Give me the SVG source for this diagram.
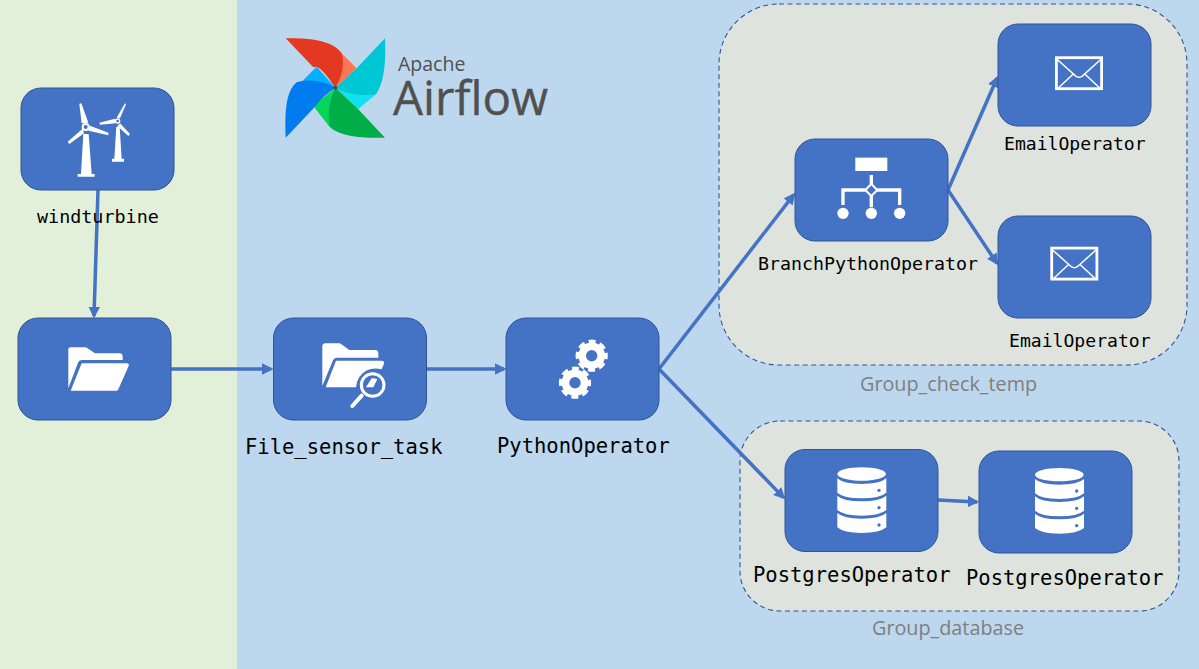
<svg xmlns="http://www.w3.org/2000/svg" xmlns:xlink="http://www.w3.org/1999/xlink" width="1199" height="669" viewBox="0 0 1199 669">
<style>
.box{fill:#4472c4;stroke:#2f5597;stroke-width:1}
.lab{font-family:"DejaVu Sans Mono","Liberation Mono",monospace;fill:#000}
.l1{font-size:18.4px}.l2{font-size:20.5px}.l3{font-size:18.1px}.l4{font-size:18.3px}
.grp{fill:#dee4dd;stroke:#2f5597;stroke-width:1.1;stroke-dasharray:5 3.5}
.gl{font-family:"Open Sans","Liberation Sans",sans-serif;font-size:19.800px;fill:#7f7f7f}
.wire{fill:none;stroke:#4472c4;stroke-width:3.500;marker-end:url(#arr)}
.ic{fill:#fff}
.ln{fill:none;stroke:#fff}
</style>
<defs>
<marker id="arr" viewBox="0 0 10 10" refX="8" refY="5" markerWidth="3.300" markerHeight="3.300" orient="auto" markerUnits="strokeWidth"><path d="M0,0L10,5L0,10Z" fill="#4472c4"/></marker>
<g id="email">
<rect x="1.400" y="1.400" width="45.200" height="31" fill="none" stroke="#fff" stroke-width="2.800"/>
<path d="M2,3L21,20Q24,22 27,20L46,3M3,32L18,18M45,32L30,18" fill="none" stroke="#fff" stroke-width="1.500"/>
</g>
<g id="db" transform="scale(.3333)">
<ellipse cx="275" cy="102" rx="73" ry="20" fill="#fff"/>
<path fill="#fff" d="M202,115Q220,132 275,132Q330,132 349,115V158Q330,175 275,175Q220,175 202,158Z"/>
<path fill="#fff" d="M202,167Q220,184 275,184Q330,184 349,167V210Q330,227 275,227Q220,227 202,210Z"/>
<path fill="#fff" d="M202,219Q220,236 275,236Q330,236 349,219V262Q330,279 275,279Q220,279 202,262Z"/>
<circle cx="327" cy="151" r="5" fill="#4472c4"/><circle cx="327" cy="203" r="5" fill="#4472c4"/><circle cx="327" cy="255" r="5" fill="#4472c4"/>
</g>
<g id="gear">
<circle r="9.500" fill="none" stroke="#fff" stroke-width="7.600"/>
<circle r="14" fill="none" stroke="#fff" stroke-width="4.200" stroke-dasharray="6.800 4.200" stroke-dashoffset="3.400"/>
</g>
</defs>
<rect width="237" height="669" fill="#e2efd9"/>
<rect x="237" width="962" height="669" fill="#bdd7ee"/>
<g id="group_check_temp"><rect class="grp" x="719" y="4" width="468" height="361" rx="60"/><text class="gl" x="860" y="391">Group_check_temp</text></g>
<g id="group_database"><rect class="grp" x="740" y="421" width="439" height="190" rx="40"/><text class="gl" x="872" y="635">Group_database</text></g>
<g id="airflow_logo">
<g transform="translate(270 25) scale(.3333)">
<path fill="#ff7557" d="M215,85L260,130L196,188Z"/>
<path fill="#e43921" d="M47,40C110,38 190,45 215,85C225,115 215,160 196,188C180,165 160,135 140,125Q135,125 130,127Z"/>
<path fill="#11e1ee" d="M196,188L318,208L265,252Z"/>
<path fill="#00c7d4" d="M345,40C348,100 345,170 318,208C280,215 225,205 196,188L260,130Z"/>
<path fill="#00ad46" d="M345,338C280,340 200,335 175,300C170,260 180,215 196,188L262,250Z"/>
<path fill="#04d659" d="M196,188C180,215 170,260 180,307L135,250Q133,240 140,232Q165,215 196,188Z"/>
<path fill="#00b1ff" d="M196,188L140,125L95,170Q150,165 196,188Z"/>
<path fill="#017cee" d="M47,338C45,270 45,200 80,172C120,160 165,170 196,188C170,205 150,225 135,245Z"/>
<circle cx="196" cy="188" r="6" fill="#4e4a4a"/>
</g>
<text x="398" y="71" font-family="'Open Sans','Liberation Sans',sans-serif" font-size="19.500" fill="#51504f">Apache</text>
<text x="393" y="115" font-family="'Open Sans','Liberation Sans',sans-serif" font-size="47.500" fill="#51504f" stroke="#51504f" stroke-width=".4" textLength="155">Airflow</text>
</g>
<g id="connectors">
<path class="wire" d="M98,190L94,316"/>
<path class="wire" d="M171,369L271,369"/>
<path class="wire" d="M426,369L504,369"/>
<path class="wire" d="M659,369L793.800,194.600"/>
<path class="wire" d="M659,369L783.600,497.600"/>
<path class="wire" d="M948,190L997.200,77.800"/>
<path class="wire" d="M948,190L996.900,263.300"/>
<path class="wire" d="M938,500L977,501.900"/>
</g>
<g id="windturbine">
<rect class="box" x="21" y="88" width="153" height="102" rx="20"/>
<g transform="translate(0 70) scale(.3333)">
<path class="ic" d="M250,192L266,192L275,312H284V320H233V312H243Z"/>
<path class="ic" d="M238,101L244,100L265,158L245,160Z"/>
<path class="ic" d="M270,167L325,188L325,196L265,182Z"/>
<path class="ic" d="M248,176L203,215L208,222L252,190Z"/>
<circle cx="257" cy="171" r="9" fill="#4472c4" stroke="#fff" stroke-width="6"/>
<path class="ic" d="M349,170L359,170L365,266H372V275H336V266H343Z"/>
<path class="ic" d="M375,100L378,103L360,145L350,143Z"/>
<path class="ic" d="M298,158L345,146L347,160L300,164Z"/>
<path class="ic" d="M360,160L390,192L385,198L352,168Z"/>
<circle cx="353" cy="153" r="6" fill="#4472c4" stroke="#fff" stroke-width="4"/>
</g>
<text class="lab l1" x="37" y="223">windturbine</text>
</g>
<g id="folder">
<rect class="box" x="18" y="318" width="153" height="102" rx="20"/>
<g transform="translate(10 310) scale(.3333)">
<path class="ic" d="M175,118q0,-6 6,-6H228L255,130H328q10,0 10,10V150H215q-8,0 -11,8L175,235Z"/>
<path class="ic" d="M215,160H350q8,0 6,8L325,238q-1,4 -6,4H182Z"/>
</g>
</g>
<g id="file_sensor_task">
<rect class="box" x="273.500" y="318" width="153" height="102" rx="20"/>
<g transform="translate(260 310) scale(.3333)">
<path class="ic" d="M187,110q0,-10 10,-10H240L268,120H345q10,0 10,10V143H230q-8,0 -11,8L187,228Z"/>
<path class="ic" d="M228,152H365q9,0 7,9L365,178Q340,172 318,182Q290,200 288,232H197Z"/>
<circle cx="338" cy="225" r="34" fill="#4472c4" stroke="#fff" stroke-width="9"/>
<path class="ic" d="M318,232L335,205Q345,205 352,207L340,232Z"/>
<path d="M305,257L277,288" stroke="#fff" stroke-width="12" stroke-linecap="round"/>
</g>
<text class="lab l2" x="245" y="454">File_sensor_task</text>
</g>
<g id="python_operator">
<rect class="box" x="506" y="318" width="153" height="102" rx="20"/>
<use xlink:href="#gear" href="#gear" transform="translate(591.700 355.700)"/>
<use xlink:href="#gear" href="#gear" transform="translate(575 382.700)"/>
<text class="lab l2" x="497" y="453">PythonOperator</text>
</g>
<g id="branch_python_operator">
<rect class="box" x="795" y="139" width="153" height="102" rx="20"/>
<g transform="translate(780 10) scale(.3333)">
<rect class="ic" x="226" y="443" width="96" height="40"/>
<path class="ln" stroke-width="10" d="M274,495V522M189,585V540H256M292,540H359V585M274,558V592"/>
<path d="M274,522L292,540L274,558L256,540Z" fill="#4472c4" stroke="#fff" stroke-width="6"/>
<circle class="ic" cx="189" cy="610" r="17"/><circle class="ic" cx="274" cy="610" r="17"/><circle class="ic" cx="359" cy="610" r="17"/>
</g>
<text class="lab l4" x="758" y="270">BranchPythonOperator</text>
</g>
<g id="email_operator_1">
<rect class="box" x="998" y="24" width="153" height="102" rx="20"/>
<use xlink:href="#email" href="#email" x="1055" y="56.300"/>
<text class="lab l3" x="1004" y="150">EmailOperator</text>
</g>
<g id="email_operator_2">
<rect class="box" x="998" y="216" width="153" height="102" rx="20"/>
<use xlink:href="#email" href="#email" x="1050.300" y="246.700"/>
<text class="lab l3" x="1009" y="347">EmailOperator</text>
</g>
<g id="postgres_operator_1">
<rect class="box" x="785" y="449.500" width="153" height="102" rx="20"/>
<g transform="translate(770 440)"><use xlink:href="#db" href="#db"/></g>
<text class="lab l2" x="753" y="582">PostgresOperator</text>
</g>
<g id="postgres_operator_2">
<rect class="box" x="979" y="451" width="153" height="102" rx="20"/>
<g transform="translate(967.700 440.700)"><use xlink:href="#db" href="#db"/></g>
<text class="lab l2" x="966" y="585">PostgresOperator</text>
</g>
</svg>
